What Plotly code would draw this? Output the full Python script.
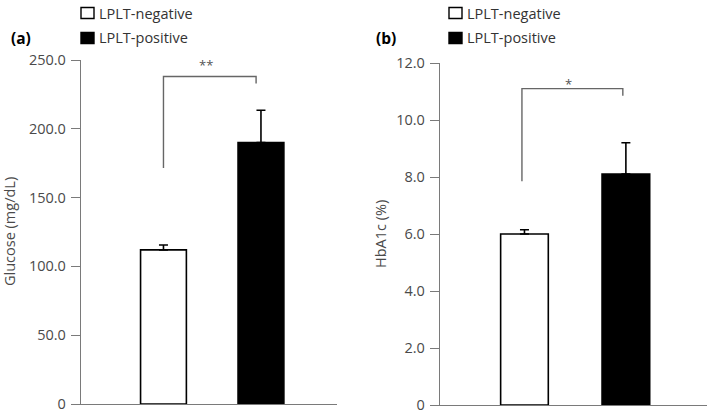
import plotly.graph_objects as go

# ---------------- data ----------------
groups = ["LPLT-negative", "LPLT-positive"]
glucose_mean = [112.0, 190.0]
glucose_err = [3.5, 23.5]
hba1c_mean = [6.0, 8.1]
hba1c_err = [0.15, 1.1]

glucose_ticks = [0, 50, 100, 150, 200, 250]
glucose_ticktext = ["0", "50.0", "100.0", "150.0", "200.0", "250.0"]
hba1c_ticks = [0, 2, 4, 6, 8, 10, 12]
hba1c_ticktext = ["0", "2.0", "4.0", "6.0", "8.0", "10.0", "12.0"]

# significance brackets: (left arm bottom, bracket top, right arm bottom), label
glucose_bracket = [171.5, 238.0, 233.0]
glucose_sig = "**"
hba1c_bracket = [7.85, 11.1, 10.85]
hba1c_sig = "*"

panel_labels = ["(a)", "(b)"]
ytitles = ["Glucose (mg/dL)", "HbA1c (%)"]

# ---------------- layout helpers ----------------
W, H = 709, 414
def px(x):
    return x / W
def py(y):
    return 1 - y / H

FONT = "Open Sans"
TICK_COLOR = "#4a4a4a"
AXIS_COLOR = "#7a7a7a"

fig = go.Figure()

bar_fill = ["white", "black"]

panels = [
    dict(xa="x", ya="y", mean=glucose_mean, err=glucose_err),
    dict(xa="x2", ya="y2", mean=hba1c_mean, err=hba1c_err),
]

for p in panels:
    for i, g in enumerate(groups):
        fig.add_trace(go.Bar(
            x=[g], y=[p["mean"][i]],
            xaxis=p["xa"], yaxis=p["ya"],
            width=0.47,
            marker=dict(color=bar_fill[i], line=dict(color="black", width=1.6)),
            error_y=dict(type="data", symmetric=False, array=[p["err"][i]],
                         arrayminus=[0], color="black", thickness=1.6, width=4.5),
            showlegend=False,
            hoverinfo="skip",
            name=g,
        ))

axis_common = dict(showgrid=False, zeroline=False, showline=True,
                   linecolor=AXIS_COLOR, linewidth=1.4, automargin=False)

fig.update_layout(
    template="none",
    width=W, height=H,
    margin=dict(l=0, r=0, t=0, b=0, pad=0, autoexpand=False),
    paper_bgcolor="white", plot_bgcolor="white",
    font=dict(family=FONT, color=TICK_COLOR),
    barmode="overlay",
    showlegend=False,
    xaxis=dict(domain=[px(81), px(337)], type="category",
               categoryorder="array", categoryarray=groups,
               range=[-0.846, 1.78], showticklabels=False, ticks="",
               anchor="y", **axis_common),
    yaxis=dict(domain=[py(404), py(60)], range=[0, 250],
               tickvals=glucose_ticks, ticktext=glucose_ticktext,
               ticks="outside", ticklen=9, tickwidth=1.4, tickcolor=AXIS_COLOR,
               tickfont=dict(size=14.5, family=FONT, color=TICK_COLOR),
               ticklabelstandoff=2, ticklabeloverflow="allow",
               anchor="x", **axis_common),
    xaxis2=dict(domain=[px(440), px(707)], type="category",
                categoryorder="array", categoryarray=groups,
                range=[-0.833, 1.80], showticklabels=False, ticks="",
                anchor="y2", **axis_common),
    yaxis2=dict(domain=[py(405), py(63)], range=[0, 12],
                tickvals=hba1c_ticks, ticktext=hba1c_ticktext,
                ticks="outside", ticklen=9, tickwidth=1.4, tickcolor=AXIS_COLOR,
                tickfont=dict(size=14.5, family=FONT, color=TICK_COLOR),
                ticklabelstandoff=2, ticklabeloverflow="allow",
                anchor="x2", **axis_common),
)

# significance brackets
brackets = [
    ("x", "y", glucose_bracket, glucose_sig, 0.0, 0.95, 1),
    ("x2", "y2", hba1c_bracket, hba1c_sig, -0.025, 0.97, -6),
]
for xa, ya, br, sig, xl, xr, ys in brackets:
    fig.add_shape(type="path",
                  path=f"M {xl},{br[0]} L {xl},{br[1]} L {xr},{br[1]} L {xr},{br[2]}",
                  xref=xa, yref=ya, line=dict(color="#666666", width=1.4))
    fig.add_annotation(x=(xl + xr) / 2, y=br[1], xref=xa, yref=ya,
                       text=sig, showarrow=False, xanchor="center", yanchor="bottom",
                       xshift=-4, yshift=ys,
                       font=dict(size=13, family=FONT, color="#555555"))

# panel labels
for lab, x in zip(panel_labels, [21, 386]):
    fig.add_annotation(x=px(x), y=py(38), xref="paper", yref="paper",
                       text=f"<b>{lab}</b>", showarrow=False,
                       xanchor="center", yanchor="middle",
                       font=dict(size=15.5, family=FONT, color="black"))

# y-axis titles
for t, x, yc in zip(ytitles, [9, 381], [232, 234]):
    fig.add_annotation(x=px(x), y=py(yc), xref="paper", yref="paper",
                       text=t, textangle=-90, showarrow=False,
                       xanchor="center", yanchor="middle",
                       font=dict(size=14.5, family=FONT, color=TICK_COLOR))

# legends (manual)
for lx in [81, 449]:
    for i, g in enumerate(groups):
        yc = 13 + 25 * i
        fig.add_shape(type="rect", xref="paper", yref="paper",
                      x0=px(lx), x1=px(lx + 13), y0=py(yc + 5.5), y1=py(yc - 5.5),
                      fillcolor=bar_fill[i], line=dict(color="black", width=1.4))
        fig.add_annotation(x=px(lx + 16), y=py(yc), xref="paper", yref="paper",
                           text=g, showarrow=False, xanchor="left", yanchor="middle",
                           font=dict(size=14.5, family=FONT, color="#333333"))

fig.write_html("out.html",
               config={"displayModeBar": False},
               post_script="document.body.style.margin='0px';")
